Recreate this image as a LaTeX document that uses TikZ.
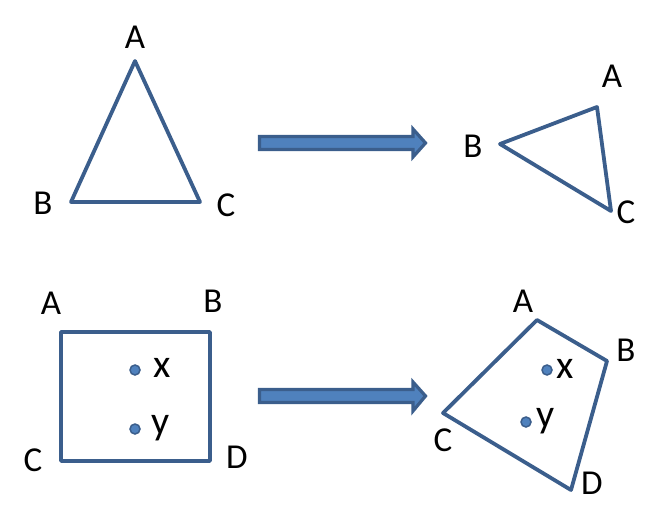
\documentclass[tikz,border=0pt]{standalone}
\usepackage{fontspec}
\setmainfont{Carlito}
\definecolor{edge}{HTML}{3B5E8C}
\definecolor{fillb}{HTML}{4F81BD}
\begin{document}
\begin{tikzpicture}[x=1bp,y=-1bp,
  outl/.style={draw=edge,line width=3.8bp,line join=round},
  lab/.style={font=\fontsize{35bp}{40bp}\selectfont,inner sep=0pt},
  small/.style={font=\fontsize{40bp}{44bp}\selectfont,inner sep=0pt},
  dot/.style={circle,draw=edge,fill=fillb,line width=1.5bp,minimum size=10bp,inner sep=0pt},
  bigarrow/.style={draw=edge,fill=fillb,line width=3.2bp,line join=miter}]
\useasboundingbox (0,0) rectangle (660,526);
% triangle 1
\coordinate (t1A) at (135,61);
\coordinate (t1B) at (71,202);
\coordinate (t1C) at (200,202);
\draw[outl] (t1A) -- (t1B) -- (t1C) -- cycle;
\node[lab] (lt1A) at (135,37) {A};
\node[lab] (lt1B) at (43,203) {B};
\node[lab] (lt1C) at (226,205) {C};
% arrow 1
\draw[bigarrow] (259.5,136.5) -- (413,136.5) -- (413,129) -- (425.5,143) -- (413,157) -- (413,149.5) -- (259.5,149.5) -- cycle;
% triangle 2
\coordinate (t2A) at (597,107);
\coordinate (t2B) at (500,144);
\coordinate (t2C) at (611,211);
\draw[outl] (t2A) -- (t2B) -- (t2C) -- cycle;
\node[lab] (lt2A) at (612,76) {A};
\node[lab] (lt2B) at (473,146) {B};
\node[lab] (lt2C) at (626,212) {C};
% square
\coordinate (sA) at (61,332);
\coordinate (sB) at (210,332);
\coordinate (sD) at (210,461);
\coordinate (sC) at (61,461);
\draw[outl] (sA) -- (sB) -- (sD) -- (sC) -- cycle;
\node[lab] (lsA) at (51,303) {A};
\node[lab] (lsB) at (213,301) {B};
\node[lab] (lsC) at (33,460) {C};
\node[lab] (lsD) at (237,457) {D};
\node[dot] (sx) at (135,370) {};
\node[dot] (sy) at (135,429) {};
\node[small,anchor=west] (lsx) at (153,368) {x};
\node[small,anchor=west] (lsy) at (151,428) {y};
% arrow 2
\draw[bigarrow] (259.5,389.5) -- (413,389.5) -- (413,382) -- (425.5,396) -- (413,411) -- (413,402.5) -- (259.5,402.5) -- cycle;
% quadrilateral
\coordinate (qA) at (537,320);
\coordinate (qB) at (607,361);
\coordinate (qD) at (571,490);
\coordinate (qC) at (443,413);
\draw[outl] (qA) -- (qB) -- (qD) -- (qC) -- cycle;
\node[lab] (lqA) at (523,301) {A};
\node[lab] (lqB) at (626,350) {B};
\node[lab] (lqC) at (443,440) {C};
\node[lab] (lqD) at (592,483) {D};
\node[dot] (qx) at (547,370) {};
\node[dot] (qy) at (526,422) {};
\node[small,anchor=west] (lqx) at (556,369) {x};
\node[small,anchor=west] (lqy) at (536,421) {y};
\end{tikzpicture}
\end{document}
